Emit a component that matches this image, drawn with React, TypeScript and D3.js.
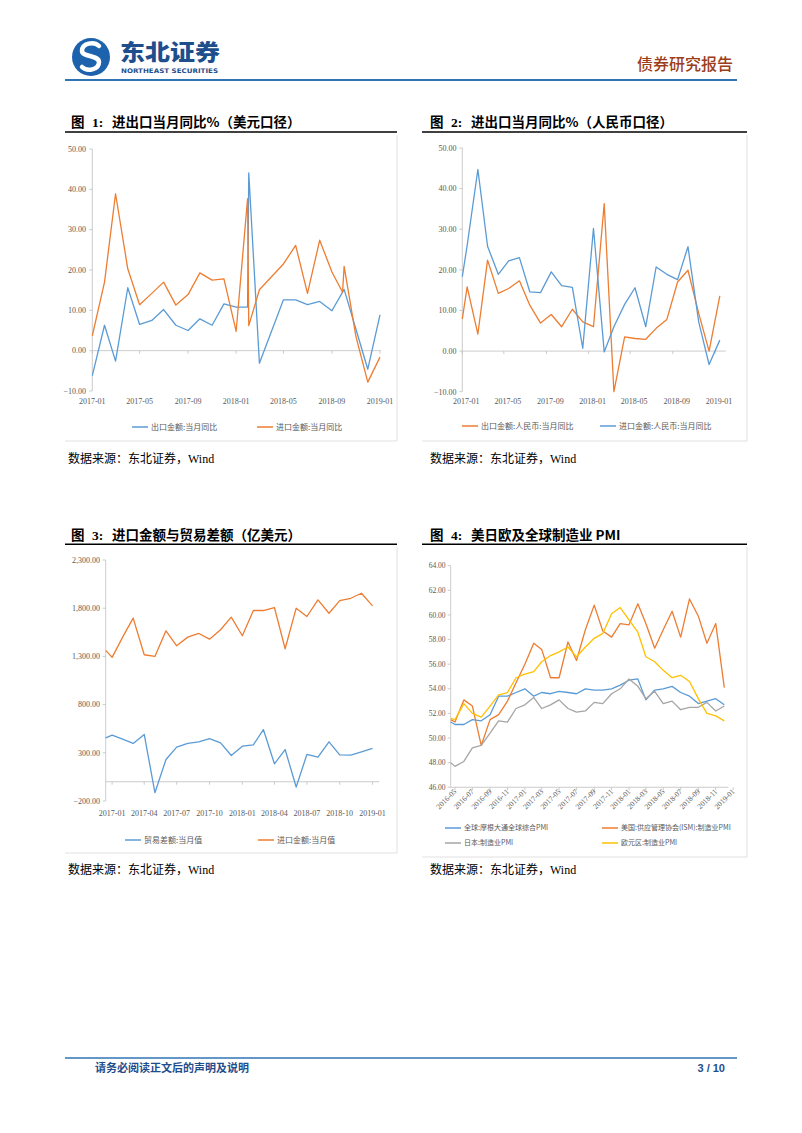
import React from "react";
import * as d3 from "d3";

const parseDay = d3.timeParse("%Y-%m-%d");
const parseMonth = d3.timeParse("%Y-%m");

// ---------- Chart 1: USD YoY ----------
const c1Dates = [
  "2017-01-01", "2017-02-01", "2017-03-01", "2017-04-01", "2017-05-01", "2017-06-01", "2017-07-01",
  "2017-08-01", "2017-09-01", "2017-10-01", "2017-11-01", "2017-12-01", "2018-01-01", "2018-01-30",
  "2018-02-02", "2018-03-01", "2018-05-01", "2018-06-01", "2018-07-01", "2018-08-01", "2018-09-01",
  "2018-09-28", "2018-10-02", "2018-11-01", "2018-12-01", "2019-01-01",
];
const c1Export = [-6.2, 6.3, -2.6, 15.6, 6.5, 7.5, 10.2, 6.3, 5.0, 7.9, 6.3, 11.6, 10.8, 10.8, 44.1, -3.1, 12.6, 12.6, 11.4, 12.2, 9.9, 14.5, 15.2, 5.3, -4.6, 8.9];
const c1Import = [3.7, 17.0, 38.9, 20.3, 11.4, 14.2, 17.0, 11.3, 13.9, 19.3, 17.5, 17.8, 4.8, 37.7, 6.2, 15.1, 21.5, 26.1, 14.2, 27.4, 19.5, 14.5, 20.9, 3.5, -7.8, -1.6];
const c1TickLabels = ["2017-01", "2017-05", "2017-09", "2018-01", "2018-05", "2018-09", "2019-01"];
const pctTicks = [-10, 0, 10, 20, 30, 40, 50];

// ---------- Chart 2: RMB YoY ----------
const c2Dates = [
  "2017-01-01", "2017-01-15", "2017-02-15", "2017-03-15", "2017-04-15", "2017-05-15", "2017-06-15",
  "2017-07-15", "2017-08-15", "2017-09-15", "2017-10-15", "2017-11-15", "2017-12-15", "2018-01-15",
  "2018-02-15", "2018-03-15", "2018-04-15", "2018-05-15", "2018-06-15", "2018-07-15", "2018-08-15",
  "2018-09-15", "2018-10-15", "2018-11-15", "2018-12-15", "2019-01-15",
];
const c2Export = [7.9, 15.8, 4.2, 22.4, 14.2, 15.4, 17.3, 11.3, 6.9, 9.0, 6.0, 10.3, 7.2, 6.0, 36.3, -10.0, 3.5, 3.1, 2.9, 5.6, 7.8, 17.0, 19.9, 9.3, 0.0, 13.6];
const c2Import = [18.3, 26.0, 44.7, 25.8, 18.9, 22.2, 23.0, 14.6, 14.4, 19.5, 16.1, 15.7, 0.7, 30.2, -0.2, 6.0, 11.5, 15.6, 6.0, 20.7, 18.9, 17.6, 25.7, 7.2, -3.3, 2.7];
const c2TickLabels = ["2017-01", "2017-05", "2017-09", "2018-01", "2018-05", "2018-09", "2019-01"];

// ---------- Chart 3: imports & trade balance (100m USD) ----------
const c3Dates = [
  "2016-12-14", "2017-01-01", "2017-02-01", "2017-03-01", "2017-04-01", "2017-05-01", "2017-06-01",
  "2017-07-01", "2017-08-01", "2017-09-01", "2017-10-01", "2017-11-01", "2017-12-01", "2018-01-01",
  "2018-02-01", "2018-03-01", "2018-04-01", "2018-05-01", "2018-06-01", "2018-07-01", "2018-08-01",
  "2018-09-01", "2018-10-01", "2018-11-01", "2018-12-01", "2019-01-01",
];
const c3Balance = [455, 483, 440, 397, 490, -114, 231, 359, 397, 414, 448, 403, 272, 369, 383, 541, 186, 334, -55, 283, 255, 414, 279, 276, 310, 345];
const c3Import = [1362, 1290, 1510, 1697, 1317, 1300, 1565, 1410, 1500, 1538, 1479, 1576, 1707, 1514, 1776, 1776, 1807, 1379, 1800, 1714, 1886, 1748, 1879, 1903, 1955, 1824];
const c3TickLabels = ["2017-01", "2017-04", "2017-07", "2017-10", "2018-01", "2018-04", "2018-07", "2018-10", "2019-01"];
const c3YTicks = [-200, 300, 800, 1300, 1800, 2300];

// ---------- Chart 4: PMI ----------
const c4Dates = [
  "2016-04-16", "2016-05-01", "2016-06-01", "2016-07-01", "2016-08-01", "2016-09-01", "2016-10-01",
  "2016-11-01", "2016-12-01", "2017-01-01", "2017-02-01", "2017-03-01", "2017-04-01", "2017-05-01",
  "2017-06-01", "2017-07-01", "2017-08-01", "2017-09-01", "2017-10-01", "2017-11-01", "2017-12-01",
  "2018-01-01", "2018-02-01", "2018-03-01", "2018-04-01", "2018-05-01", "2018-06-01", "2018-07-01",
  "2018-08-01", "2018-09-01", "2018-10-01", "2018-11-01", "2018-12-01",
];
const c4Global = [51.3, 51.1, 51.1, 51.5, 51.4, 51.9, 53.4, 53.4, 53.7, 54.0, 53.4, 53.7, 53.6, 53.8, 53.7, 53.6, 54.0, 53.9, 53.9, 54.0, 54.3, 54.7, 54.8, 53.1, 53.9, 54.0, 54.2, 53.7, 53.4, 52.8, 53.0, 53.2, 52.7];
const c4ISM = [51.5, 51.3, 53.1, 52.6, 49.4, 51.5, 51.9, 53.0, 54.5, 56.0, 57.7, 57.2, 54.9, 54.9, 57.8, 56.3, 58.8, 60.8, 58.7, 58.2, 59.3, 59.2, 60.9, 59.3, 57.3, 58.8, 60.3, 58.2, 61.3, 59.9, 57.7, 59.3, 54.1];
const c4Japan = [48.0, 47.7, 48.1, 49.2, 49.4, 50.4, 51.4, 51.3, 52.4, 52.7, 53.3, 52.4, 52.7, 53.1, 52.4, 52.1, 52.2, 52.9, 52.8, 53.6, 54.0, 54.8, 54.2, 53.2, 53.8, 52.8, 53.0, 52.3, 52.5, 52.5, 52.9, 52.2, 52.6];
const c4Euro = [51.6, 51.5, 52.8, 52.0, 51.7, 52.6, 53.5, 53.7, 54.9, 55.2, 55.4, 56.2, 56.7, 57.0, 57.4, 56.6, 57.4, 58.1, 58.5, 60.1, 60.6, 59.6, 58.6, 56.6, 56.2, 55.5, 54.9, 55.1, 54.6, 53.2, 52.0, 51.8, 51.4];
const c4TickLabels = [
  "2016-05", "2016-07", "2016-09", "2016-11", "2017-01", "2017-03", "2017-05", "2017-07", "2017-09",
  "2017-11", "2018-01", "2018-03", "2018-05", "2018-07", "2018-09", "2018-11", "2019-01",
];
const c4YTicks = [46, 48, 50, 52, 54, 56, 58, 60, 62, 64];

// ---------- styles ----------
const BLUE = "#5b9bd5";
const ORANGE = "#ed7d31";
const GREY = "#a5a5a5";
const YELLOW = "#ffc000";
const AXIS = "#bfbfbf";
const LABEL = "#595959";
const SERIF = '"Liberation Serif", "Times New Roman", serif';
const CJK = '"Noto Sans CJK SC", "Noto Sans", sans-serif';
const DARKBLUE = "#1f4e8c";

type Series = { values: number[]; color: string };

interface ChartProps {
  dates: string[];
  series: Series[];
  xDomain: [string, string];
  xRange: [number, number];
  yDomain: [number, number];
  yRange: [number, number];
  yTicks: number[];
  yFmt: (v: number) => string;
  yLabelRight: number;
  tickLabels: string[];
  xLabelY: number;
  xLabelDx?: number;
  rotate?: boolean;
  baseValue: number;
  axisEnd: number;
  fontSize: number;
}

function LineChart(p: ChartProps) {
  const x = d3.scaleTime().domain([parseDay(p.xDomain[0])!, parseDay(p.xDomain[1])!]).range(p.xRange);
  const y = d3.scaleLinear().domain(p.yDomain).range(p.yRange);
  const xs = p.dates.map((d) => x(parseDay(d)!));
  const line = d3
    .line<number>()
    .x((_, i) => xs[i])
    .y((v) => y(v));
  const x0 = p.xRange[0];
  const yb = y(p.baseValue);
  return (
    <g>
      <line x1={x0} x2={x0} y1={y(p.yDomain[1])} y2={y(p.yDomain[0])} stroke={AXIS} strokeWidth={0.8} />
      {p.yTicks.map((t) => (
        <g key={t}>
          <line x1={x0 - 3} x2={x0} y1={y(t)} y2={y(t)} stroke={AXIS} strokeWidth={0.8} />
          <text
            x={p.yLabelRight}
            y={y(t)}
            dy="0.35em"
            textAnchor="end"
            fontFamily={SERIF}
            fontSize={p.fontSize}
            fill={LABEL}
          >
            {p.yFmt(t)}
          </text>
        </g>
      ))}
      <line x1={x0} x2={p.axisEnd} y1={yb} y2={yb} stroke={AXIS} strokeWidth={0.8} />
      {p.tickLabels.map((l) => {
        const tx = x(parseMonth(l)!);
        return (
          <g key={l}>
            <line x1={tx} x2={tx} y1={yb} y2={yb + 3} stroke={AXIS} strokeWidth={0.8} />
            {p.rotate ? (
              <text
                transform={`translate(${tx + 2},${p.xLabelY}) rotate(-45)`}
                textAnchor="end"
                fontFamily={SERIF}
                fontSize={p.fontSize}
                fill={LABEL}
              >
                {l}
              </text>
            ) : (
              <text
                x={tx + (p.xLabelDx || 0)}
                y={p.xLabelY}
                textAnchor="middle"
                fontFamily={SERIF}
                fontSize={p.fontSize}
                fill={LABEL}
              >
                {l}
              </text>
            )}
          </g>
        );
      })}
      {p.series.map((s, i) => (
        <path
          key={i}
          d={line(s.values) || ""}
          fill="none"
          stroke={s.color}
          strokeWidth={1.3}
          strokeLinejoin="round"
        />
      ))}
    </g>
  );
}

function Legend({ items, fontSize }: { items: { x: number; y: number; color: string; label: string }[]; fontSize: number }) {
  return (
    <g>
      {items.map((it) => (
        <g key={it.label}>
          <line x1={it.x} x2={it.x + 16} y1={it.y} y2={it.y} stroke={it.color} strokeWidth={1.5} />
          <text x={it.x + 19} y={it.y} dy="0.35em" fontFamily={CJK} fontSize={fontSize} fill={LABEL}>
            {it.label}
          </text>
        </g>
      ))}
    </g>
  );
}

function Title({ x, y, num, text, lineX1, lineX2, lineY }: { x: number; y: number; num: string; text: string; lineX1: number; lineX2: number; lineY: number }) {
  return (
    <g>
      <text x={x} y={y} fontFamily={CJK} fontWeight={700} fontSize={13.5} fill="#000">
        图
      </text>
      <text x={x + 21} y={y} fontFamily={SERIF} fontWeight={700} fontSize={13.5} fill="#000">
        {num}:
      </text>
      <text x={x + 41} y={y} fontFamily={CJK} fontWeight={700} fontSize={13.5} fill="#000">
        {text}
      </text>
      <line x1={lineX1} x2={lineX2} y1={lineY} y2={lineY} stroke="#000" strokeWidth={1.4} />
    </g>
  );
}

function Source({ x, y }: { x: number; y: number }) {
  return (
    <text x={x} y={y} fontSize={12} fill="#000">
      <tspan fontFamily={CJK}>数据来源：东北证券，</tspan>
      <tspan fontFamily={SERIF}>Wind</tspan>
    </text>
  );
}

function Header() {
  return (
    <g>
      <circle cx={91} cy={57} r={19} fill="#1d62ad" />
      <path
        d="M 99 46 C 94 41, 82 43, 82 51 C 82 57, 99 55, 99 62 C 99 70, 87 72, 82 67"
        fill="none"
        stroke="#fff"
        strokeWidth={4.5}
        strokeLinecap="round"
      />
      <text x={120} y={60} fontFamily={CJK} fontWeight={900} fontSize={22} fill={DARKBLUE} textLength={100} lengthAdjust="spacingAndGlyphs">
        东北证券
      </text>
      <text x={121} y={73} fontFamily='"DejaVu Sans", sans-serif' fontWeight={700} fontSize={6.3} fill={DARKBLUE} textLength={97} lengthAdjust="spacingAndGlyphs">
        NORTHEAST SECURITIES
      </text>
      <text x={637} y={70} fontFamily={CJK} fontWeight={500} fontSize={16} fill="#9c3d1a">
        债券研究报告
      </text>
      <line x1={65} x2={737} y1={80} y2={80} stroke="#2e75b6" strokeWidth={2} />
    </g>
  );
}

function Footer() {
  return (
    <g>
      <line x1={65} x2={737} y1={1058} y2={1058} stroke="#2e75b6" strokeWidth={1.5} />
      <text x={95} y={1072} fontFamily={CJK} fontWeight={700} fontSize={11} fill={DARKBLUE}>
        请务必阅读正文后的声明及说明
      </text>
      <text x={725} y={1072} textAnchor="end" fontFamily='"Liberation Sans", sans-serif' fontWeight={700} fontSize={11} fill={DARKBLUE}>
        3 / 10
      </text>
    </g>
  );
}

const f2 = d3.format(".2f");
const f2c = d3.format(",.2f");

export default function App() {
  return (
    <svg width={802} height={1133} style={{ position: "absolute", left: 0, top: 0, background: "#fff" }}>
      <rect width={802} height={1133} fill="#fff" />
      <Header />

      {/* Chart 1 */}
      <Title x={71} y={127} num="1" text="进出口当月同比%（美元口径）" lineX1={65} lineX2={397} lineY={132} />
      <LineChart
        dates={c1Dates}
        series={[
          { values: c1Export, color: BLUE },
          { values: c1Import, color: ORANGE },
        ]}
        xDomain={["2017-01-01", "2019-01-01"]}
        xRange={[92.3, 380]}
        yDomain={[-10, 50]}
        yRange={[391, 149]}
        yTicks={pctTicks}
        yFmt={f2}
        yLabelRight={86}
        tickLabels={c1TickLabels}
        xLabelY={404}
        baseValue={0}
        axisEnd={381}
        fontSize={8}
      />
      <Legend
        fontSize={8}
        items={[
          { x: 132, y: 427, color: BLUE, label: "出口金额:当月同比" },
          { x: 257, y: 427, color: ORANGE, label: "进口金额:当月同比" },
        ]}
      />
      <line x1={397} x2={397} y1={135} y2={441} stroke="#d9d9d9" strokeWidth={0.8} />
      <line x1={65} x2={397} y1={441} y2={441} stroke="#d9d9d9" strokeWidth={0.8} />
      <Source x={68} y={463} />

      {/* Chart 2 */}
      <Title x={430} y={127} num="2" text="进出口当月同比%（人民币口径）" lineX1={422} lineX2={747} lineY={132} />
      <LineChart
        dates={c2Dates}
        series={[
          { values: c2Export, color: ORANGE },
          { values: c2Import, color: BLUE },
        ]}
        xDomain={["2017-01-01", "2019-02-01"]}
        xRange={[462.3, 725.7]}
        yDomain={[-10, 50]}
        yRange={[391.7, 148]}
        yTicks={pctTicks}
        yFmt={f2}
        yLabelRight={456.5}
        tickLabels={c2TickLabels}
        xLabelY={404}
        xLabelDx={4}
        baseValue={0}
        axisEnd={725.7}
        fontSize={8}
      />
      <Legend
        fontSize={8}
        items={[
          { x: 462, y: 426, color: ORANGE, label: "出口金额:人民币:当月同比" },
          { x: 600, y: 426, color: BLUE, label: "进口金额:人民币:当月同比" },
        ]}
      />
      <line x1={747} x2={747} y1={135} y2={441} stroke="#d9d9d9" strokeWidth={0.8} />
      <line x1={422} x2={747} y1={441} y2={441} stroke="#d9d9d9" strokeWidth={0.8} />
      <Source x={430} y={463} />

      {/* Chart 3 */}
      <Title x={71} y={540} num="3" text="进口金额与贸易差额（亿美元）" lineX1={65} lineX2={397} lineY={544.3} />
      <LineChart
        dates={c3Dates}
        series={[
          { values: c3Balance, color: BLUE },
          { values: c3Import, color: ORANGE },
        ]}
        xDomain={["2016-12-14", "2019-01-20"]}
        xRange={[105.7, 379.3]}
        yDomain={[-200, 2300]}
        yRange={[801, 560]}
        yTicks={c3YTicks}
        yFmt={f2c}
        yLabelRight={100}
        tickLabels={c3TickLabels}
        xLabelY={816}
        baseValue={0}
        axisEnd={379.3}
        fontSize={8}
      />
      <Legend
        fontSize={8}
        items={[
          { x: 125, y: 840, color: BLUE, label: "贸易差额:当月值" },
          { x: 258, y: 840, color: ORANGE, label: "进口金额:当月值" },
        ]}
      />
      <line x1={397} x2={397} y1={547} y2={853} stroke="#d9d9d9" strokeWidth={0.8} />
      <line x1={65} x2={397} y1={853} y2={853} stroke="#d9d9d9" strokeWidth={0.8} />
      <Source x={68} y={874} />

      {/* Chart 4 */}
      <Title x={430} y={540} num="4" text="美日欧及全球制造业 PMI" lineX1={422} lineX2={747} lineY={544.3} />
      <LineChart
        dates={c4Dates}
        series={[
          { values: c4Global, color: BLUE },
          { values: c4ISM, color: ORANGE },
          { values: c4Japan, color: GREY },
          { values: c4Euro, color: YELLOW },
        ]}
        xDomain={["2016-04-16", "2018-12-15"]}
        xRange={[450.7, 728.3]}
        yDomain={[46, 64]}
        yRange={[787.3, 565.7]}
        yTicks={c4YTicks}
        yFmt={f2}
        yLabelRight={445.5}
        tickLabels={c4TickLabels}
        xLabelY={792}
        rotate
        baseValue={46}
        axisEnd={728.3}
        fontSize={7.5}
      />
      <Legend
        fontSize={7}
        items={[
          { x: 445, y: 828, color: BLUE, label: "全球:摩根大通全球综合PMI" },
          { x: 602, y: 828, color: ORANGE, label: "美国:供应管理协会(ISM):制造业PMI" },
          { x: 445, y: 843, color: GREY, label: "日本:制造业PMI" },
          { x: 602, y: 843, color: YELLOW, label: "欧元区:制造业PMI" },
        ]}
      />
      <line x1={747} x2={747} y1={547} y2={857} stroke="#d9d9d9" strokeWidth={0.8} />
      <line x1={422} x2={747} y1={857} y2={857} stroke="#d9d9d9" strokeWidth={0.8} />
      <Source x={430} y={874} />

      <Footer />
    </svg>
  );
}
